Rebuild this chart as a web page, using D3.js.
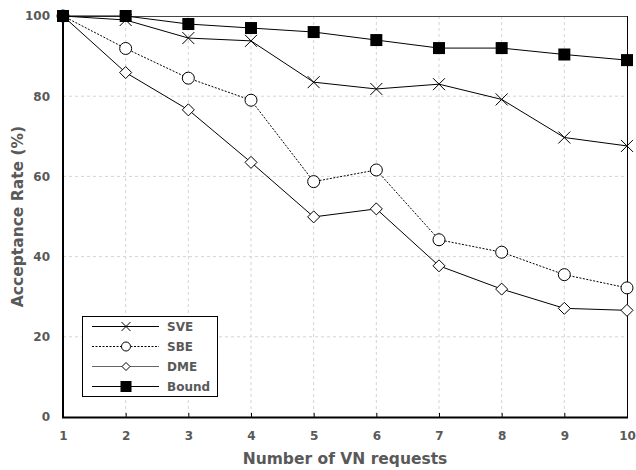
<!DOCTYPE html>
<html><head><meta charset="utf-8">
<script src="https://cdn.jsdelivr.net/npm/d3@7"></script>
<style>body{margin:0;background:#fff}svg{display:block}</style>
</head><body>
<svg id="c" width="636" height="470"></svg>
<script>
const requests = [1,2,3,4,5,6,7,8,9,10];
const sve   = [100, 99.0, 94.5, 93.8, 83.5, 81.8, 83.0, 79.2, 69.7, 67.6];
const sbe   = [100, 91.9, 84.5, 79.0, 58.7, 61.6, 44.2, 41.1, 35.5, 32.2];
const dme   = [100, 85.9, 76.6, 63.5, 49.9, 51.9, 37.7, 31.9, 27.1, 26.6];
const bound = [100, 100, 98.0, 97.0, 96.0, 94.0, 92.0, 92.0, 90.4, 89.0];
const yTicks = [0,20,40,60,80,100];
const seriesNames = ["SVE","SBE","DME","Bound"];

const svg = d3.select("#c");
const L=63, R=627, T=16, B=417;
const x = d3.scaleLinear().domain([1,10]).range([L,R]);
const y = d3.scaleLinear().domain([0,100]).range([B,T]);
const txt = "#595959";
const font = "'DejaVu Sans', Verdana, sans-serif";

// grid
svg.append("g").selectAll("line").data(yTicks.filter(d=>d>0&&d<100)).join("line")
  .attr("x1",L).attr("x2",R).attr("y1",d=>y(d)).attr("y2",d=>y(d))
  .attr("stroke","#d4d4d4").attr("stroke-dasharray","3,3").attr("stroke-width",1);
svg.append("g").selectAll("line").data(requests.filter(d=>d>1&&d<10)).join("line")
  .attr("x1",d=>x(d)).attr("x2",d=>x(d)).attr("y1",T).attr("y2",B)
  .attr("stroke","#d4d4d4").attr("stroke-dasharray","3,3").attr("stroke-width",1);

// frame
svg.append("line").attr("x1",L).attr("x2",R).attr("y1",T+0.5).attr("y2",T+0.5).attr("stroke","#444").attr("stroke-width",1);
svg.append("line").attr("x1",R+0.5).attr("x2",R+0.5).attr("y1",T).attr("y2",B).attr("stroke","#000").attr("stroke-width",1);

// axes
const xAxis = d3.axisBottom(x).tickValues(requests).tickSize(-4).tickPadding(14.5).tickFormat(d3.format("d"));
const gx = svg.append("g").attr("transform",`translate(0,${B})`).call(xAxis);
const yAxis = d3.axisLeft(y).tickValues(yTicks).tickSize(0).tickPadding(13);
const gy = svg.append("g").attr("transform",`translate(${L},0)`).call(yAxis);
[gx,gy].forEach(g=>{
  g.select(".domain").attr("stroke","#000").attr("stroke-width",2);
  g.selectAll(".tick line").attr("stroke","#000");
  g.selectAll(".tick text").attr("fill",txt).attr("font-family",font).attr("font-weight","bold").attr("font-size",12);
});
gx.select(".domain").attr("d",`M${L-1},0.5H${R+1}`);
gy.select(".domain").attr("d",`M0,${T}V${B}`);

svg.append("text").attr("x",(L+R)/2).attr("y",464).attr("text-anchor","middle")
  .attr("fill",txt).attr("font-family",font).attr("font-weight","bold").attr("font-size",15.5)
  .text("Number of VN requests");
svg.append("text").attr("transform",`translate(23,${(T+B)/2}) rotate(-90)`).attr("text-anchor","middle")
  .attr("fill",txt).attr("font-family",font).attr("font-weight","bold").attr("font-size",15.5)
  .text("Acceptance Rate (%)");

// markers
function marker(g, type, cx, cy, s){
  if(type==="x"){
    g.append("path").attr("d",`M${cx-s},${cy-s}L${cx+s},${cy+s}M${cx-s},${cy+s}L${cx+s},${cy-s}`)
      .attr("stroke","#000").attr("stroke-width",1).attr("fill","none");
  } else if(type==="o"){
    g.append("circle").attr("cx",cx).attr("cy",cy).attr("r",s).attr("fill","#fff").attr("stroke","#000").attr("stroke-width",1);
  } else if(type==="d"){
    g.append("path").attr("d",`M${cx},${cy-s}L${cx+s},${cy}L${cx},${cy+s}L${cx-s},${cy}Z`)
      .attr("fill","#fff").attr("stroke","#000").attr("stroke-width",1);
  } else {
    g.append("rect").attr("x",cx-s).attr("y",cy-s).attr("width",2*s).attr("height",2*s).attr("fill","#000");
  }
}

const series = [
  {name:seriesNames[0], vals:sve, m:"x", dash:null, s:6, ls:4.5},
  {name:seriesNames[1], vals:sbe, m:"o", dash:"2,1.5", s:6, ls:4.5},
  {name:seriesNames[2], vals:dme, m:"d", dash:null, s:6, ls:4},
  {name:seriesNames[3], vals:bound, m:"s", dash:null, s:6, ls:5.5},
];
const line = d3.line().x((d,i)=>x(requests[i])).y(d=>y(d));
series.forEach(sr=>{
  const g = svg.append("g");
  g.append("path").attr("d",line(sr.vals)).attr("fill","none").attr("stroke","#000").attr("stroke-width",1)
    .attr("stroke-dasharray",sr.dash);
  sr.vals.forEach((v,i)=>marker(g, sr.m, x(requests[i]), y(v), sr.s));
});

// legend
const lg = svg.append("g");
lg.append("rect").attr("x",82.5).attr("y",316.5).attr("width",135).attr("height",80).attr("fill","#fff").attr("stroke","#000").attr("stroke-width",1);
series.forEach((sr,i)=>{
  const cy = 326.5 + i*20;
  lg.append("line").attr("x1",92).attr("x2",159).attr("y1",cy).attr("y2",cy)
    .attr("stroke", sr.m==="d" ? "#666" : "#000").attr("stroke-width",1).attr("stroke-dasharray",sr.dash);
  marker(lg, sr.m, 126, cy, sr.ls);
  lg.append("text").attr("x",167).attr("y",cy+4.5).attr("fill",txt).attr("font-family",font)
    .attr("font-weight","bold").attr("font-size",12).text(sr.name);
});
</script>
</body></html>
